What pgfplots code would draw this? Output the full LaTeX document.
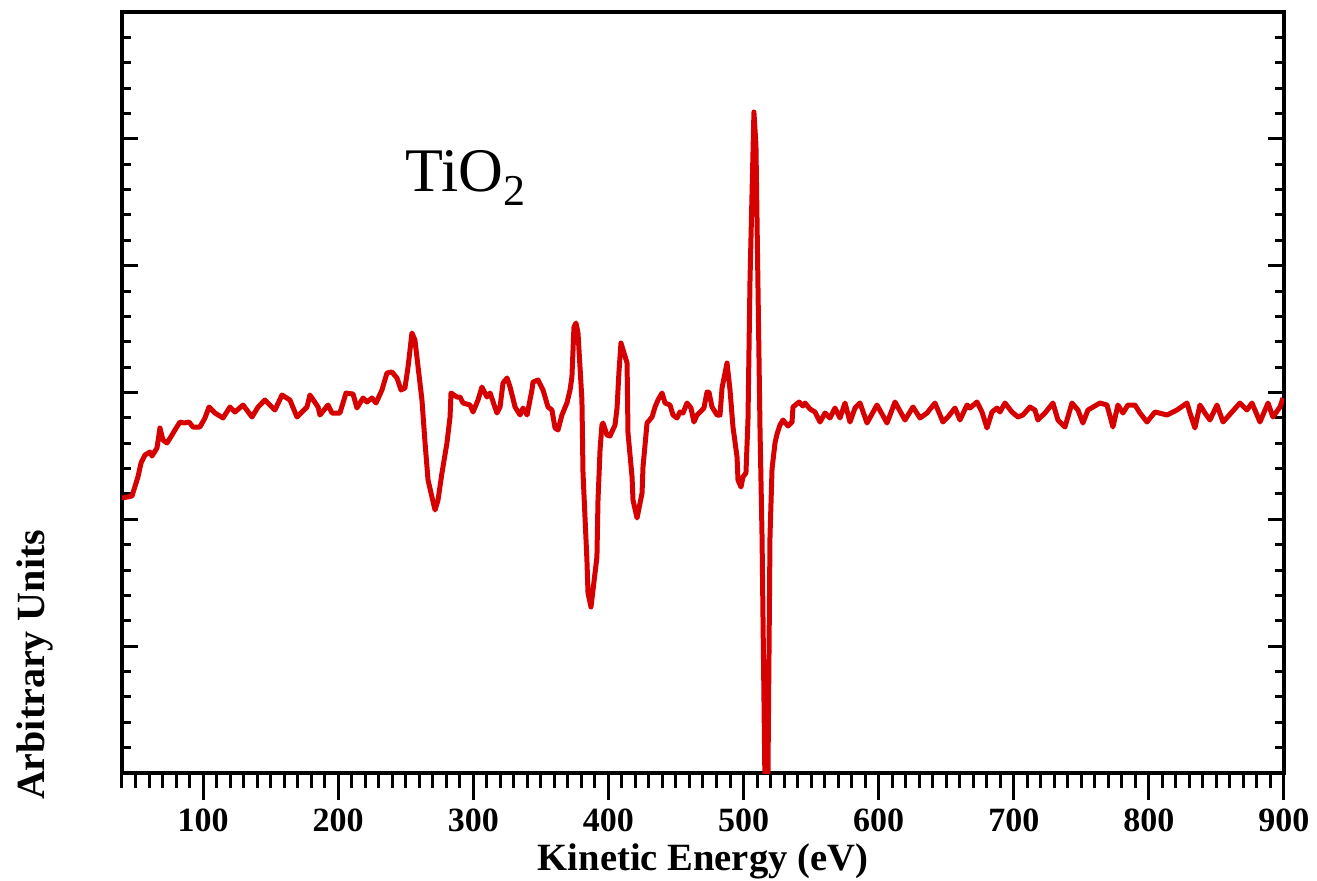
\documentclass[border=0pt]{standalone}
\usepackage{pgfplots}
\pgfplotsset{compat=1.18}
\usepackage{pgfplotstable}
\usepackage{fontspec}
\setmainfont{Liberation Serif}
\definecolor{curvered}{RGB}{215,0,0}
\pgfplotstableread{
x y
40.0 275
47.4 277
51.8 296
54.1 310
57.0 318
60.7 321
62.2 317
65.9 325
68.1 345
70.3 333
73.3 330
77.0 338
79.2 343
82.9 351
85.9 350
89.6 351
92.5 346
97.7 346
101.4 355
104.4 366
108.8 360
114.8 355
119.9 366
123.6 361
129.6 368
136.2 356
140.7 366
145.8 373
153.2 363
158.4 378
164.3 373
169.5 356
176.9 366
179.1 378
185.1 366
186.5 358
192.5 368
195.4 360
201.3 360
205.8 380
211.0 379
213.9 365
218.4 375
221.3 371
225.0 375
228.0 370
232.4 383
236.1 400
239.8 401
243.5 395
246.5 383
249.4 385
251.7 406
254.6 440
256.8 433
262.0 373
264.3 330
266.5 293
269.4 276
271.7 263
273.9 273
276.8 300
280.5 330
282.8 356
283.5 380
287.9 376
290.2 376
292.4 370
297.6 368
299.8 361
303.5 373
306.4 386
310.1 376
312.4 380
317.5 360
319.8 366
322.0 390
325.0 395
327.2 386
330.9 366
334.6 358
336.8 365
339.8 358
343.4 383
344.2 391
347.9 393
351.6 383
355.3 366
358.2 363
360.5 345
362.7 343
365.6 358
369.3 370
371.6 383
373.0 396
374.5 446
376.0 450
377.5 440
380.4 373
381.2 300
384.1 213
384.9 180
387.1 166
388.6 183
391.5 216
392.3 273
393.0 296
393.8 323
395.2 348
396.0 350
398.9 338
401.2 337
404.9 348
406.4 365
407.8 401
409.3 430
413.8 410
414.5 340
417.5 296
418.2 273
421.2 255
424.9 280
425.6 306
428.6 350
432.3 356
434.5 366
436.7 373
439.7 380
441.9 370
445.6 368
447.8 358
450.8 355
453.0 361
455.2 360
458.2 370
461.1 365
463.3 351
465.6 358
469.3 363
470.7 365
473.0 381
474.4 381
476.7 366
480.4 358
482.6 358
484.1 385
487.8 410
490.0 383
492.2 346
495.2 316
495.9 293
498.1 286
499.6 296
501.8 300
503.3 353
504.8 493
507.7 661
509.2 628
512.2 344
513.7 237
516.3 -60
518.1 0
519.6 237
521.1 304
523.3 330
524.8 339
527.0 348
529.2 353
532.9 347
535.9 351
536.6 366
541.1 371
544.0 367
545.5 370
549.2 364
552.9 361
556.6 351
560.3 360
564.0 355
567.7 365
571.4 355
575.1 370
578.8 351
582.5 365
586.2 370
591.4 350
598.8 368
606.2 350
612.1 371
619.5 353
625.4 366
630.6 355
635.8 360
641.7 370
647.6 351
651.3 356
656.5 365
660.2 353
665.4 368
667.6 365
672.8 371
676.5 361
680.2 345
683.9 361
687.6 365
689.8 361
693.5 370
698.7 361
703.1 356
706.8 358
712.0 366
715.7 363
717.9 353
723.1 360
729.0 370
732.7 353
737.9 346
743.1 370
747.5 363
751.2 350
754.9 363
763.8 370
769.0 368
773.4 346
777.1 368
780.8 360
784.5 368
789.7 368
793.4 360
798.6 351
804.5 361
813.4 358
820.8 363
828.2 370
830.4 360
834.1 345
837.8 368
841.5 360
845.2 353
850.4 368
854.9 351
861.5 361
867.4 370
872.6 363
876.3 370
878.5 363
882.2 351
888.2 370
891.8 356
897.0 366
899.3 375
}\spectrum
\begin{document}
\begin{tikzpicture}
\useasboundingbox (-61pt,-53.5pt) rectangle (597.5pt,386.5pt);
\pgfplotsset{common/.style={
  width=581pt, height=380.5pt, scale only axis,
  xmin=40, xmax=900, ymin=0, ymax=761,
  axis line style={line width=2.1pt, black},
  every tick/.style={line width=1.5pt, black},
  at={(0,0)}, anchor=south west,
}}
% frame with x ticks
\begin{axis}[common,
  clip=false,
  xtick={100,200,...,900},
  minor xtick={40,50,...,900},
  ytick=\empty,
  tick align=outside,
  xtick pos=left,
  major tick length=13.5pt,
  minor tick length=7.5pt,
  /pgf/number format/assume math mode=true,
  /pgf/number format/1000 sep={},
  xticklabel style={font=\bfseries\fontsize{17}{20}\selectfont, yshift=-1pt},
]
\node[font=\bfseries\fontsize{19.3}{22}\selectfont, anchor=base] at (rel axis cs:0.5,-0.1275) {Kinetic Energy (eV)};
\node[font=\bfseries\fontsize{20}{24}\selectfont, anchor=base, rotate=90] at (rel axis cs:-0.0671,0.142) {Arbitrary Units};
\end{axis}
% y ticks and curve
\begin{axis}[common,
  xtick=\empty,
  ytick={0,126.8333,253.6667,380.5,507.3333,634.1667,761},
  minor ytick={25.3667,50.7333,76.1,101.4667,152.2,177.5667,202.9333,228.3,279.0333,304.4,329.7667,355.1333,405.8667,431.2333,456.6,481.9667,532.7,558.0667,583.4333,608.8,659.5333,684.9,710.2667,735.6333},
  yticklabels={},
  tick align=inside,
  ytick pos=both,
  major tick length=8pt,
  minor tick length=4.5pt,
]
\addplot[curvered, line width=2.5pt, line join=round, mark=none] table[x=x,y=y] {\spectrum};
\node[anchor=base west, font=\fontsize{31}{36}\selectfont, inner sep=0pt] at (axis cs:249.5,581) {TiO\raisebox{-7pt}{\fontsize{22}{26}\selectfont 2}};
\end{axis}
\end{tikzpicture}
\end{document}
